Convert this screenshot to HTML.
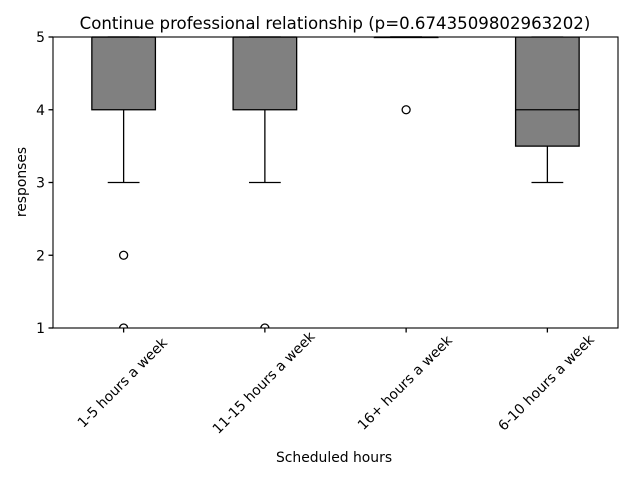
<!DOCTYPE html>
<html><head><meta charset="utf-8"><style>
body{margin:0;background:#fff}
svg{font-family:"DejaVu Sans","Liberation Sans",sans-serif}
</style></head><body>
<svg id="chart" width="640" height="480">
<rect width="640" height="480" fill="#fff"/>
<text x="335" y="29" font-size="16.6" text-anchor="middle">Continue professional relationship (p=0.6743509802963202)</text>
<g id="plot"></g>
<rect x="53" y="37" width="565" height="291" fill="none" stroke="#000" stroke-width="1.1"/>
<text transform="translate(26,182) rotate(-90)" font-size="13.9" text-anchor="middle">responses</text>
<text x="334" y="462" font-size="13.9" text-anchor="middle">Scheduled hours</text>
</svg>
<script>
const categories=["1-5 hours a week","11-15 hours a week","16+ hours a week","6-10 hours a week"];
const q1=[4,4,5,3.5];
const medians=[5,5,5,4];
const q3=[5,5,5,5];
const whiskLow=[3,3,5,3];
const whiskHigh=[5,5,5,5];
const outliers=[[2,1],[1],[4],[]];
const yTicks=[1,2,3,4,5];
const L=53,R=618,T=37,B=328;
const x=i=>L+(i+0.5)*(R-L)/categories.length;
const y=v=>B-(v-1)*(B-T)/4;
const ns="http://www.w3.org/2000/svg";
const g=document.getElementById('plot');
function mk(tag,attrs){const e=document.createElementNS(ns,tag);for(const k in attrs)e.setAttribute(k,attrs[k]);g.appendChild(e);return e;}
const bw=(R-L)/categories.length*0.45;
const sw=1.3;
yTicks.forEach(t=>{
 const tk=mk('line',{x1:L-4.5,x2:L,y1:y(t),y2:y(t),stroke:'#000','stroke-width':sw});
 
 
 const tx=mk('text',{x:L-8,y:y(t)+5,'font-size':13.9,'text-anchor':'end'});
 tx.textContent=t;
 
 
});
categories.forEach((c,i)=>{
 const cx=x(i);
 const wl=mk('line',{x1:cx,x2:cx,y1:y(q1[i]),y2:y(whiskLow[i]),stroke:'#000','stroke-width':sw});
 
 
 const wh=mk('line',{x1:cx,x2:cx,y1:y(q3[i]),y2:y(whiskHigh[i]),stroke:'#000','stroke-width':sw});
 
 
 [whiskLow[i],whiskHigh[i]].forEach(v=>{
  const cap=mk('line',{x1:cx-bw/4,x2:cx+bw/4,y1:y(v),y2:y(v),stroke:'#000','stroke-width':sw});
  
  
 });
 const box=mk('rect',{x:cx-bw/2,y:y(q3[i]),width:bw,height:Math.max(y(q1[i])-y(q3[i]),0.5),fill:'#808080',stroke:'#000','stroke-width':sw});
 
 
 const md=mk('line',{x1:cx-bw/2,x2:cx+bw/2,y1:y(medians[i]),y2:y(medians[i]),stroke:'#000','stroke-width':sw});
 
 
 outliers[i].forEach(v=>{
  const o=mk('circle',{cx:cx,cy:y(v),r:4,fill:'none',stroke:'#000','stroke-width':sw});
  
  
 });
 const tk=mk('line',{x1:cx,x2:cx,y1:B,y2:B+4.5,stroke:'#000','stroke-width':sw});
 
 
 const tx=mk('text',{'font-size':13.9,'text-anchor':'middle',transform:`translate(${cx+2},${B+58}) rotate(-45)`});
 tx.textContent=c;
 
 
});
const cp=document.createElementNS(ns,'clipPath');cp.id='cp';
const cr=document.createElementNS(ns,'rect');cr.setAttribute('x',L);cr.setAttribute('y',T);cr.setAttribute('width',R-L);cr.setAttribute('height',B-T);
cp.appendChild(cr);document.getElementById('chart').appendChild(cp);
g.querySelectorAll('circle,rect').forEach(e=>e.setAttribute('clip-path','url(#cp)'));
</script>
</body></html>
